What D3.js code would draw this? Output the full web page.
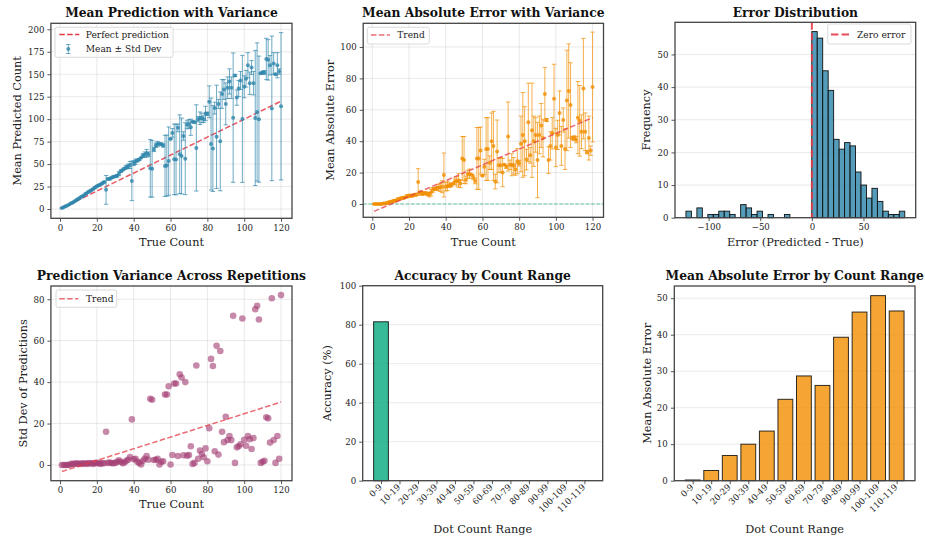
<!DOCTYPE html>
<html>
<head>
<meta charset="utf-8">
<script src="https://d3js.org/d3.v7.min.js"></script>
<style>
  body { margin: 0; background: #fff; }
  svg { font-family: "DejaVu Serif", serif; }
  .title { font-size: 12.3px; font-weight: bold; text-anchor: middle; fill: #111; }
  .lab { font-size: 11.3px; text-anchor: middle; fill: #222; }
  .axis text { font-size: 8.6px; fill: #222; font-family: "DejaVu Serif", serif; }
  .axis line { stroke: #444; stroke-width: 0.9; }
  .grid line { stroke: #b0b0b0; stroke-opacity: 0.35; stroke-width: 0.8; }
  .leg text { font-size: 9.1px; fill: #222; }
</style>
</head>
<body>
<div id="chart"></div>
<script>
// ---- data ----
var trueCounts = [1,2,3,4,5,6,7,8,9,10,11,12,13,14,15,16,17,18,19,20,
  21,22,23,24,25,26,27,28,29,30,31,32,33,34,35,36,37,38,39,40,
  41,42,43,44,45,46,47,48,49,50,51,52,53,54,55,56,57,58,59,60,
  61,62,63,64,65,66,67,68,69,70,71,72,73,74,75,76,77,78,79,80,
  81,82,83,84,85,86,87,88,89,90,91,92,93,94,95,96,97,98,99,100,
  101,102,103,104,105,106,107,108,109,110,111,112,113,114,115,116,117,118,119,120];

var meanPred = [1.0,2.0,3.0,4.0,5.0,6.3,7.3,8.7,10.0,11.5,
  12.7,14.0,15.3,17.0,18.3,19.7,21.0,22.3,24.0,25.3,
  26.3,27.3,28.7,30.0,21.3,33.3,33.7,34.7,36.0,36.3,
  37.0,39.3,42.0,43.5,45.0,46.5,47.5,49.0,31.3,51.0,
  52.5,54.0,55.0,57.0,59.5,60.5,62.0,61.0,45.3,44.7,
  66.3,71.0,72.3,72.7,72.0,70.7,48.0,48.3,53.3,78.0,
  84.7,55.3,55.0,90.3,61.0,59.0,81.3,56.0,93.7,94.7,
  91.0,97.0,96.7,68.0,100.0,101.0,101.3,100.0,106.3,106.0,
  119.3,72.3,67.3,112.3,80.3,117.0,75.3,128.0,133.0,117.0,
  135.0,142.0,135.0,101.7,148.5,124.0,134.0,143.0,100.3,136.0,
  145.0,160.0,140.0,157.5,140.0,101.3,108.0,100.0,151.0,152.0,
  152.0,167.0,166.0,160.0,112.0,162.0,150.0,160.0,153.0,114.3];

var stdPred = [0,0,0,0,0,0.5,0.5,0.5,0.8,0.5,
  0.5,0.8,0.5,0.8,0.5,0.9,0.8,0.5,1.0,0.8,
  1.0,0.5,0.9,0.8,16.0,1.0,1.2,0.9,0.8,1.0,
  1.5,2.2,1.5,0.8,1.2,2.0,2.5,3.8,22.0,2.7,
  3.0,1.5,1.0,0.2,2.0,3.0,4.3,2.5,32.0,31.5,
  2.4,2.5,3.0,0.2,1.5,1.8,34.0,34.0,38.0,0.2,
  4.8,39.3,39.3,4.3,43.8,42.2,4.7,40.0,4.5,4.8,
  9.0,0.5,1.0,48.0,3.0,7.0,5.3,3.7,8.0,1.8,
  17.7,51.2,47.8,6.6,57.5,5.0,55.0,16.0,11.0,23.3,
  12.0,14.0,12.0,72.0,1.0,8.5,9.0,10.0,70.7,12.2,
  9.3,14.0,12.4,7.7,13.0,75.2,76.9,70.2,1.0,1.5,
  2.0,23.0,22.5,10.8,80.5,12.0,1.0,14.0,3.0,82.0];

var maeVals = [0,0,0,0,0,0.3,0.3,0.7,1.0,1.5,
  1.7,2.0,2.3,3.0,3.3,3.7,4.0,4.3,5.0,5.3,
  5.3,5.3,5.7,6.0,14.0,7.3,6.7,6.7,7.0,6.3,
  6.0,7.3,9.0,9.5,10.0,10.5,10.5,11.0,18.5,11.0,
  11.5,12.0,12.0,13.0,14.5,14.5,15.0,13.0,29.0,28.0,
  15.3,19.0,19.3,18.7,17.0,14.7,29.0,29.0,34.0,18.0,
  23.7,35.0,35.0,26.3,40.0,37.0,14.3,33.5,24.7,24.7,
  20.0,25.0,23.7,43.0,25.0,25.0,24.3,22.0,27.3,26.0,
  38.3,44.0,40.0,28.3,52.0,31.0,47.0,40.0,44.0,28.0,
  44.0,50.0,42.0,70.0,53.5,28.0,37.0,45.0,67.0,36.0,
  44.0,58.0,37.0,53.5,35.0,66.0,72.0,63.0,42.0,42.0,
  41.0,55.0,53.0,46.0,73.5,46.0,33.0,42.0,34.0,74.5];

var maeStd = [0,0,0,0,0,0.5,0.5,0.5,0.8,0.5,
  0.5,0.8,0.5,0.8,0.5,0.9,0.8,0.5,1.0,0.8,
  1.0,0.5,0.9,0.8,8.5,1.0,1.2,0.9,0.8,1.0,
  1.5,2.2,1.5,0.8,1.2,2.0,2.5,3.8,14.0,2.7,
  3.0,1.5,1.0,0.2,2.0,3.0,4.3,2.5,14.0,15.0,
  2.4,2.5,3.0,0.2,1.5,1.8,19.7,19.7,15.0,0.2,
  4.8,20.0,20.0,4.3,18.0,22.0,4.7,20.0,4.5,4.8,
  9.0,0.5,1.0,22.0,3.0,7.0,5.3,3.7,8.0,1.8,
  17.7,27.0,22.0,6.6,25.0,5.0,30.0,16.0,11.0,24.0,
  12.0,14.0,12.0,17.0,1.0,8.5,9.0,10.0,22.0,12.2,
  9.3,14.0,12.4,7.7,13.0,32.0,30.0,27.0,1.0,1.5,
  2.0,23.0,22.5,10.8,32.0,12.0,1.0,14.0,3.0,35.0];

var errBinEdges = [-122,-116.7,-111.4,-106.1,-100.8,-95.5,-90.2,-84.9,-79.6,-74.3,
  -69,-63.7,-58.4,-53.1,-47.8,-42.5,-37.2,-31.9,-26.6,-21.3,
  -16,-10.7,-5.4,-0.1,5.2,10.5,15.8,21.1,26.4,31.7,
  37,42.3,47.6,52.9,58.2,63.5,68.8,74.1,79.4,84.7,90];
var errCounts = [2,0,3,0,1,1,2,2,1,0,4,3,1,2,0,1,0,0,1,0,
  0,0,0,57,55,45,39,24,21,23,22,14,10,6,9,5,2,1,1,2];

var rangeLabels = ["0-9","10-19","20-29","30-39","40-49","50-59","60-69","70-79","80-89","90-99","100-109","110-119"];
var rangeAccuracy = [81.5,0,0,0,0,0,0,0,0,0,0,0];
var rangeMae = [0.2,2.8,6.9,10.0,13.6,22.3,28.7,26.1,39.3,46.2,50.7,46.5];

var xTicksCount = [0,20,40,60,80,100,120];
var yTicksMean = [0,25,50,75,100,125,150,175,200];
var yTicksMae = [0,20,40,60,80,100];
var xTicksErr = [-100,-50,0,50];
var yTicksFreq = [0,10,20,30,40,50];
var yTicksStd = [0,20,40,60,80];
var yTicksAcc = [0,20,40,60,80,100];
var yTicksRangeMae = [0,10,20,30,40,50];

// ---- colours ----
var BLUE = "#2E86AB", ORANGE = "#F18F01", PURPLE = "#A23B72", GREEN = "#06A77D", RED = "#E63946";

var svg = d3.select("#chart").append("svg").attr("width", 925).attr("height", 540);

function makeAxes(box, xd, yd, xTicks, yTicks, gx, gy) {
  var x = d3.scaleLinear().domain(xd).range([box.l, box.r]);
  var y = d3.scaleLinear().domain(yd).range([box.b, box.t]);
  var g = svg.append("g");
  var grid = g.append("g").attr("class", "grid");
  if (gx) grid.selectAll("line.gx").data(xTicks).join("line").attr("class", "gx")
    .attr("x1", d => x(d)).attr("x2", d => x(d)).attr("y1", box.t).attr("y2", box.b);
  if (gy) grid.selectAll("line.gy").data(yTicks).join("line").attr("class", "gy")
    .attr("y1", d => y(d)).attr("y2", d => y(d)).attr("x1", box.l).attr("x2", box.r);
  var plot = g.append("g");
  return { x: x, y: y, g: g, plot: plot, box: box };
}

function finishAxes(a, xTicks, yTicks, xFmt) {
  var b = a.box;
  a.g.append("rect").attr("x", b.l).attr("y", b.t).attr("width", b.r - b.l).attr("height", b.b - b.t)
    .attr("fill", "none").attr("stroke", "#444").attr("stroke-width", 1.3);
  var xa = a.g.append("g").attr("class", "axis").attr("transform", "translate(0," + b.b + ")")
    .call(d3.axisBottom(a.x).tickValues(xTicks).tickSize(3.5).tickPadding(3).tickFormat(xFmt || d3.format("d")));
  xa.select(".domain").remove();
  var ya = a.g.append("g").attr("class", "axis").attr("transform", "translate(" + b.l + ",0)")
    .call(d3.axisLeft(a.y).tickValues(yTicks).tickSize(3.5).tickPadding(3).tickFormat(d3.format("d")));
  ya.select(".domain").remove();
  return xa;
}

function labels(a, title, titleY, xl, xlY, yl, ylOff) {
  var b = a.box, cx = (b.l + b.r) / 2, cy = (b.t + b.b) / 2;
  svg.append("text").attr("class", "title").attr("x", cx).attr("y", titleY).text(title);
  svg.append("text").attr("class", "lab").attr("x", cx).attr("y", xlY).text(xl);
  svg.append("text").attr("class", "lab").attr("transform", "translate(" + (b.l - ylOff) + "," + cy + ") rotate(-90)").text(yl);
}

function legendBox(x, y, w, h) {
  var lg = svg.append("g").attr("class", "leg");
  lg.append("rect").attr("x", x).attr("y", y).attr("width", w).attr("height", h).attr("rx", 2)
    .attr("fill", "#fff").attr("fill-opacity", 0.8).attr("stroke", "#d0d0d0").attr("stroke-width", 0.8);
  return lg;
}

function fitLine(xs, ys) {
  var mx = d3.mean(xs), my = d3.mean(ys);
  var sxy = d3.sum(xs, (v, i) => (v - mx) * (ys[i] - my));
  var sxx = d3.sum(xs, v => (v - mx) * (v - mx));
  var k = sxy / sxx;
  return [k, my - k * mx];
}

function errorBars(a, xs, ms, ss, color, barOpacity, r) {
  var cap = 2.2;
  var eb = a.plot.append("g").attr("stroke", color).attr("stroke-opacity", barOpacity).attr("stroke-width", 1);
  xs.forEach(function (v, i) {
    var px = a.x(v), y0 = a.y(ms[i] - ss[i]), y1 = a.y(ms[i] + ss[i]);
    eb.append("line").attr("x1", px).attr("x2", px).attr("y1", y0).attr("y2", y1);
    eb.append("line").attr("x1", px - cap).attr("x2", px + cap).attr("y1", y0).attr("y2", y0);
    eb.append("line").attr("x1", px - cap).attr("x2", px + cap).attr("y1", y1).attr("y2", y1);
  });
  a.plot.append("g").selectAll("circle").data(xs).join("circle")
    .attr("cx", d => a.x(d)).attr("cy", (d, i) => a.y(ms[i])).attr("r", r)
    .attr("fill", color).attr("fill-opacity", 0.8);
}

// ---- panel 1: mean prediction with variance ----
var a1 = makeAxes({ l: 50.9, r: 292, t: 23.3, b: 218.3 }, [-4.95, 125.95], [-10.35, 206.7], xTicksCount, yTicksMean, true, true);
a1.plot.append("line").attr("x1", a1.x(1)).attr("y1", a1.y(1)).attr("x2", a1.x(120)).attr("y2", a1.y(120))
  .attr("stroke", RED).attr("stroke-opacity", 0.85).attr("stroke-width", 1.5).attr("stroke-dasharray", "5.5,2.4");
errorBars(a1, trueCounts, meanPred, stdPred, BLUE, 0.7, 2);
finishAxes(a1, xTicksCount, yTicksMean);
labels(a1, "Mean Prediction with Variance", 17, "True Count", 246, "Mean Predicted Count", 30);
var l1 = legendBox(55, 27.3, 118, 30);
l1.append("line").attr("x1", 59.3).attr("x2", 79.3).attr("y1", 34.5).attr("y2", 34.5)
  .attr("stroke", RED).attr("stroke-width", 1.5).attr("stroke-dasharray", "5.5,2.4");
l1.append("text").attr("x", 85.7).attr("y", 37.6).text("Perfect prediction");
l1.append("line").attr("x1", 68.3).attr("x2", 68.3).attr("y1", 44.5).attr("y2", 53.5).attr("stroke", BLUE).attr("stroke-opacity", 0.7);
l1.append("line").attr("x1", 66.1).attr("x2", 70.5).attr("y1", 44.5).attr("y2", 44.5).attr("stroke", BLUE).attr("stroke-opacity", 0.7);
l1.append("line").attr("x1", 66.1).attr("x2", 70.5).attr("y1", 53.5).attr("y2", 53.5).attr("stroke", BLUE).attr("stroke-opacity", 0.7);
l1.append("circle").attr("cx", 68.3).attr("cy", 49).attr("r", 2).attr("fill", BLUE).attr("fill-opacity", 0.8);
l1.append("text").attr("x", 85.7).attr("y", 52.1).text("Mean \u00b1 Std Dev");

// ---- panel 2: MAE with variance ----
var a2 = makeAxes({ l: 363.2, r: 603.5, t: 23.3, b: 217.3 }, [-4.95, 125.95], [-8.47, 115.1], xTicksCount, yTicksMae, true, true);
a2.plot.append("line").attr("x1", a2.x(-4.95)).attr("x2", a2.x(125.95)).attr("y1", a2.y(0)).attr("y2", a2.y(0))
  .attr("stroke", GREEN).attr("stroke-opacity", 0.6).attr("stroke-width", 1).attr("stroke-dasharray", "3.7,1.6");
errorBars(a2, trueCounts, maeVals, maeStd, ORANGE, 0.7, 2);
var f2 = fitLine(trueCounts, maeVals);
a2.plot.append("line").attr("x1", a2.x(1)).attr("y1", a2.y(f2[0] * 1 + f2[1])).attr("x2", a2.x(120)).attr("y2", a2.y(f2[0] * 120 + f2[1]))
  .attr("stroke", RED).attr("stroke-opacity", 0.75).attr("stroke-width", 1.5).attr("stroke-dasharray", "5.5,2.4");
finishAxes(a2, xTicksCount, yTicksMae);
labels(a2, "Mean Absolute Error with Variance", 17, "True Count", 246, "Mean Absolute Error", 29);
var l2 = legendBox(367.3, 27.3, 62, 16.7);
l2.append("line").attr("x1", 371).attr("x2", 390).attr("y1", 35).attr("y2", 35)
  .attr("stroke", RED).attr("stroke-opacity", 0.75).attr("stroke-width", 1.5).attr("stroke-dasharray", "5.5,2.4");
l2.append("text").attr("x", 397.3).attr("y", 38.2).text("Trend");

// ---- panel 3: error distribution ----
var a3 = makeAxes({ l: 675, r: 915.7, t: 22.3, b: 217.7 }, [-132.6, 100.6], [0, 59.85], xTicksErr, yTicksFreq, false, true);
var errBins = errCounts.map((n, i) => ({ x0: errBinEdges[i], x1: errBinEdges[i + 1], n: n })).filter(d => d.n > 0);
a3.plot.selectAll("rect").data(errBins).join("rect")
  .attr("x", d => a3.x(d.x0)).attr("width", d => a3.x(d.x1) - a3.x(d.x0))
  .attr("y", d => a3.y(d.n)).attr("height", d => a3.y(0) - a3.y(d.n))
  .attr("fill", BLUE).attr("fill-opacity", 0.82).attr("stroke", "#111").attr("stroke-width", 0.9);
a3.plot.append("line").attr("x1", a3.x(0)).attr("x2", a3.x(0)).attr("y1", a3.box.t).attr("y2", a3.box.b)
  .attr("stroke", RED).attr("stroke-opacity", 0.9).attr("stroke-width", 2).attr("stroke-dasharray", "7.4,3.2");
finishAxes(a3, xTicksErr, yTicksFreq);
labels(a3, "Error Distribution", 17, "Error (Predicted - True)", 245.5, "Frequency", 25);
var l3 = legendBox(827.7, 24, 83.3, 20);
l3.append("line").attr("x1", 831).attr("x2", 850).attr("y1", 34.5).attr("y2", 34.5)
  .attr("stroke", RED).attr("stroke-opacity", 0.9).attr("stroke-width", 2).attr("stroke-dasharray", "7.4,3.2");
l3.append("text").attr("x", 857).attr("y", 37.7).text("Zero error");

// ---- panel 4: prediction variance ----
var a4 = makeAxes({ l: 50.9, r: 292, t: 286, b: 480.7 }, [-4.95, 125.95], [-7.6, 86.4], xTicksCount, yTicksStd, true, true);
a4.plot.selectAll("circle").data(trueCounts).join("circle")
  .attr("cx", d => a4.x(d)).attr("cy", (d, i) => a4.y(stdPred[i])).attr("r", 3.3)
  .attr("fill", PURPLE).attr("fill-opacity", 0.6);
var f4 = fitLine(trueCounts, stdPred);
a4.plot.append("line").attr("x1", a4.x(1)).attr("y1", a4.y(f4[0] * 1 + f4[1])).attr("x2", a4.x(120)).attr("y2", a4.y(f4[0] * 120 + f4[1]))
  .attr("stroke", RED).attr("stroke-opacity", 0.75).attr("stroke-width", 1.5).attr("stroke-dasharray", "5.5,2.4");
finishAxes(a4, xTicksCount, yTicksStd);
labels(a4, "Prediction Variance Across Repetitions", 280, "True Count", 508, "Std Dev of Predictions", 23.7);
var l4 = legendBox(56, 290, 60.7, 17.3);
l4.append("line").attr("x1", 59.3).attr("x2", 78.3).attr("y1", 298.7).attr("y2", 298.7)
  .attr("stroke", RED).attr("stroke-opacity", 0.75).attr("stroke-width", 1.5).attr("stroke-dasharray", "5.5,2.4");
l4.append("text").attr("x", 86).attr("y", 301.9).text("Trend");

// ---- panels 5 and 6: bars by count range ----
var idx = rangeLabels.map((d, i) => i);
function rangeBars(box, vals, yd, yTicks, color) {
  var a = makeAxes(box, [-0.99, 11.99], yd, idx, yTicks, false, true);
  a.plot.selectAll("rect").data(vals).join("rect")
    .attr("x", (d, i) => a.x(i - 0.4)).attr("width", a.x(0.8) - a.x(0))
    .attr("y", d => a.y(d)).attr("height", d => a.y(0) - a.y(d))
    .attr("fill", color).attr("fill-opacity", 0.8).attr("stroke", "#000").attr("stroke-opacity", 0.8).attr("stroke-width", 1);
  var xa = finishAxes(a, idx, yTicks, i => rangeLabels[i]);
  xa.selectAll("text").attr("text-anchor", "end").attr("dy", null).attr("y", 0).attr("x", 0)
    .attr("transform", "translate(1,7) rotate(-45)");
  return a;
}
var a5 = rangeBars({ l: 362.7, r: 602.7, t: 285.7, b: 480.7 }, rangeAccuracy, [0, 100], yTicksAcc, GREEN);
labels(a5, "Accuracy by Count Range", 280, "Dot Count Range", 533, "Accuracy (%)", 32);
var a6 = rangeBars({ l: 674.3, r: 915, t: 286, b: 480.7 }, rangeMae, [0, 53.34], yTicksRangeMae, ORANGE);
labels(a6, "Mean Absolute Error by Count Range", 280, "Dot Count Range", 533, "Mean Absolute Error", 23.3);
</script>
</body>
</html>
